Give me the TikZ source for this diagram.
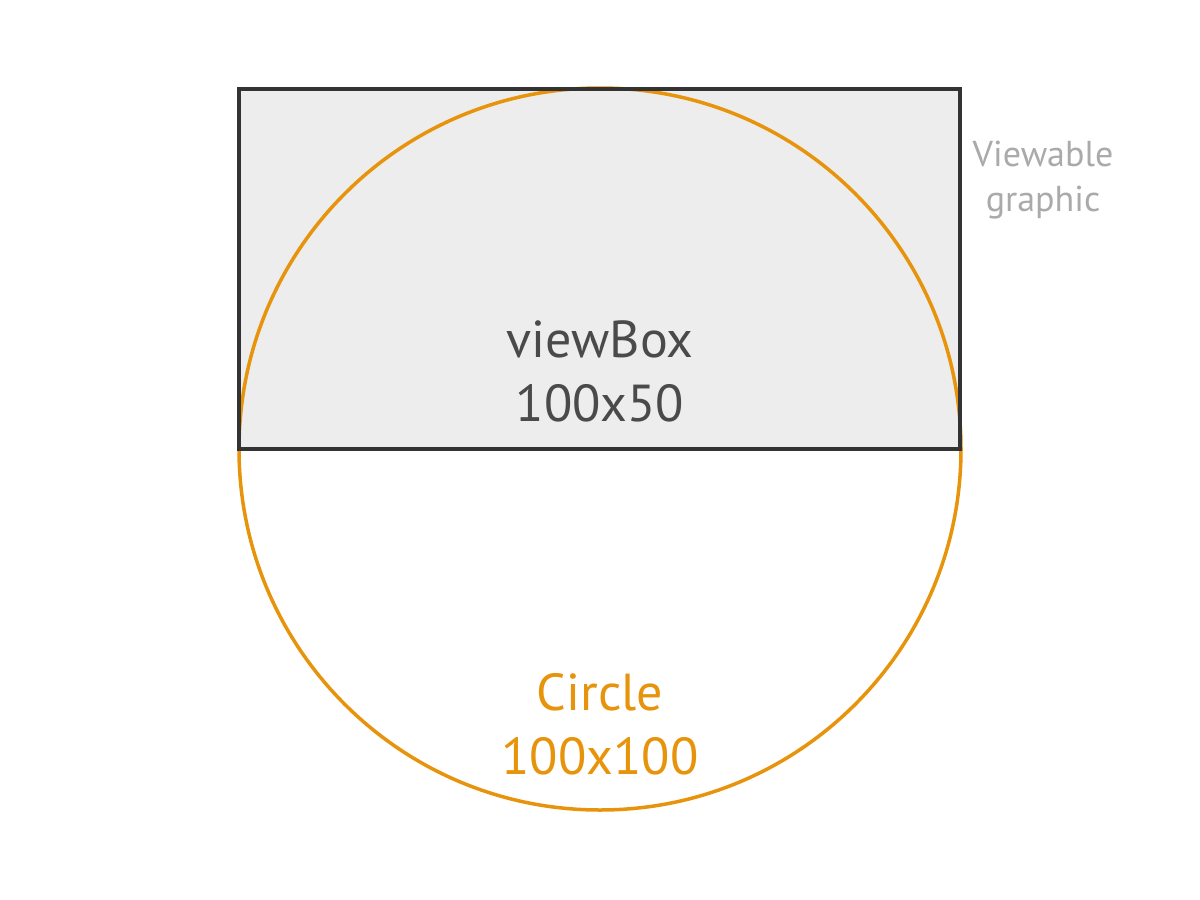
\documentclass[tikz,border=0pt]{standalone}
\usepackage{fontspec}
\setmainfont{PT Sans}
\definecolor{orng}{HTML}{E8930C}
\definecolor{boxfill}{HTML}{EDEDED}
\definecolor{boxline}{HTML}{333333}
\definecolor{dtext}{HTML}{4A4A4A}
\definecolor{ltext}{HTML}{AAAAAA}
\begin{document}
\begin{tikzpicture}[x=1pt,y=-1pt,
  lbl/.style={font=\fontsize{52}{64}\selectfont, align=center, inner sep=0pt},
  small/.style={font=\fontsize{36}{45}\selectfont, align=center, text=ltext, inner sep=0pt}]
\useasboundingbox (0,0) rectangle (1200,900);
\fill[boxfill] (239,89) rectangle (960,449);
\draw[orng, line width=3.5pt] (600,449) circle (361);
\draw[boxline, line width=3.5pt] (239,89) rectangle (960,449);
\node[lbl, text=dtext] (vb) at (600,371) {viewBox\\100x50};
\node[lbl, text=orng] (ci) at (600,724) {Circle\\100x100};
\node[small] (vg) at (1043,180) {Viewable\\graphic};
\end{tikzpicture}
\end{document}
